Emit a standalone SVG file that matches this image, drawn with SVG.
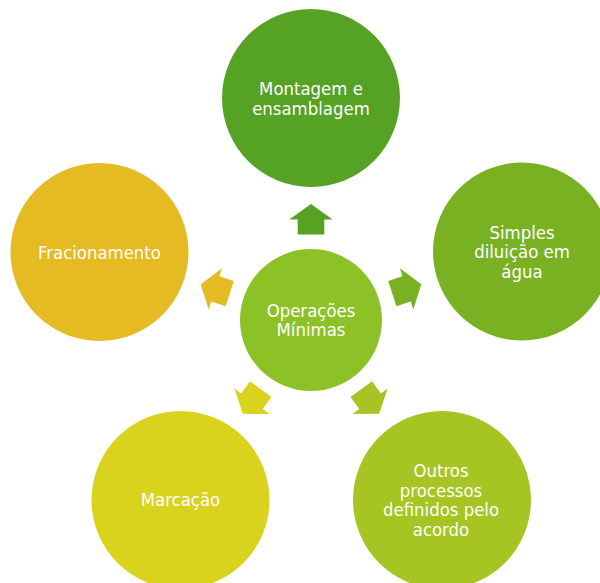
<svg xmlns="http://www.w3.org/2000/svg" width="600" height="583" viewBox="0 0 600 583">
<style>
text{font-family:"DejaVu Sans Condensed","DejaVu Sans",sans-serif;font-stretch:condensed;font-size:18.4px;fill:#ffffff;text-anchor:middle}
</style>
<defs>
<path id="arr" d="M311,204 L332.7,219.5 L324.3,219.5 L324.3,234.5 L297.7,234.5 L297.7,219.5 L289.3,219.5 Z"/>
</defs>
<rect width="600" height="583" fill="#ffffff"/>
<g id="connectors">
<use href="#arr" fill="#55A224"/>
<use href="#arr" fill="#7AB123" transform="rotate(72 311 320)"/>
<use href="#arr" fill="#A6C422" transform="rotate(144 311 320)"/>
<use href="#arr" fill="#D9D31D" transform="rotate(216 311 320)"/>
<use href="#arr" fill="#E6BA22" transform="rotate(288 311 320)"/>
</g>
<g id="center">
<circle cx="311" cy="320" r="71" fill="#8DC227"/>
<text x="311" y="316.5">Operações</text>
<text x="311" y="336">Mínimas</text>
</g>
<g id="montagem">
<circle cx="311" cy="98" r="89" fill="#55A224"/>
<text x="311" y="95">Montagem e</text>
<text x="311" y="114.5">ensamblagem</text>
</g>
<g id="simples">
<circle cx="522" cy="251.5" r="89" fill="#7AB123"/>
<text x="522" y="238.5">Simples</text>
<text x="522" y="258">diluição em</text>
<text x="522" y="277.5">água</text>
</g>
<g id="outros">
<circle cx="442" cy="500" r="89" fill="#A6C422"/>
<text x="441" y="477">Outros</text>
<text x="441" y="496.5">processos</text>
<text x="441" y="516">definidos pelo</text>
<text x="441" y="535.5">acordo</text>
</g>
<g id="marcacao">
<circle cx="180.5" cy="500" r="89" fill="#D9D31D"/>
<text x="180.5" y="506">Marcação</text>
</g>
<g id="fracionamento">
<circle cx="99.5" cy="252" r="89" fill="#E6BA22"/>
<text x="99.5" y="258.5">Fracionamento</text>
</g>
</svg>
